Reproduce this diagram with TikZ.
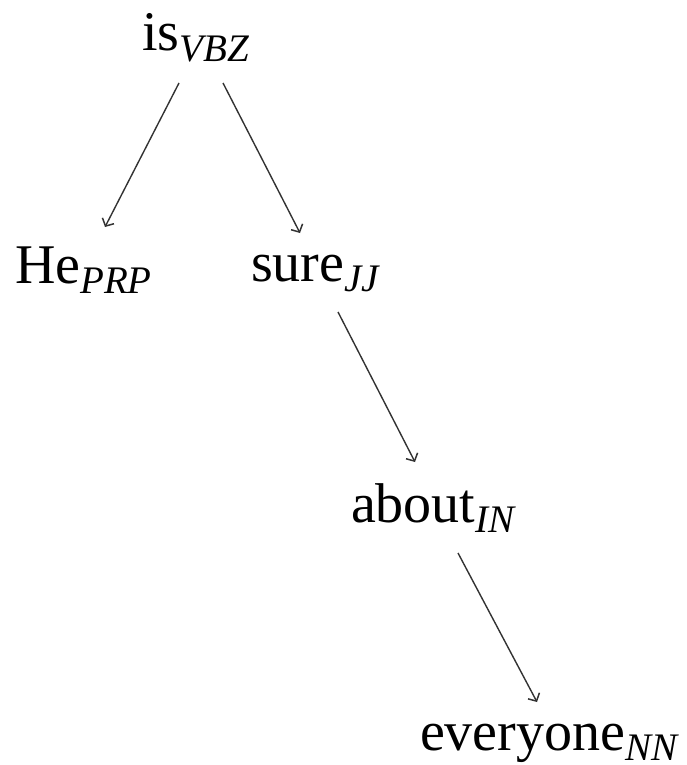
\documentclass[tikz,border=0pt]{standalone}
\usepackage{fontspec}
\setmainfont{Liberation Serif}
\usetikzlibrary{arrows.meta,calc}

% word with its part-of-speech tag set as a lowered italic subscript
\newcommand{\tagword}[2]{\fontsize{56}{60}\selectfont #1\raisebox{-10.5pt}{\fontsize{39}{40}\selectfont\itshape #2}}

\tikzset{
  word/.style={anchor=base west, inner sep=0pt, outer sep=0pt},
  dep/.style={line width=1.4pt, draw=black!80, -{Straight Barb[length=6pt,width=13pt,line width=1.5pt]}}
}

\begin{document}
\begin{tikzpicture}[x=1pt,y=-1pt]
  \useasboundingbox (0,0) rectangle (686,765);

  \node[word] (is)       at (142,51)  {\tagword{is}{VBZ}};
  \node[word] (he)       at (15,283)  {\tagword{He}{PRP}};
  \node[word] (sure)     at (251,281) {\tagword{sure}{JJ}};
  \node[word] (about)    at (351,522) {\tagword{about}{IN}};
  \node[word] (everyone) at (420,750) {\tagword{everyone}{NN}};

  \draw[dep] ($(is.base west)+(37,32)$)    -- ($(he.base west)+(90,-56)$);
  \draw[dep] ($(is.base west)+(81,32)$)    -- ($(sure.base west)+(49,-48)$);
  \draw[dep] ($(sure.base west)+(87,31)$)  -- ($(about.base west)+(64,-60)$);
  \draw[dep] ($(about.base west)+(107,31)$) -- ($(everyone.base west)+(117,-48)$);
\end{tikzpicture}
\end{document}
